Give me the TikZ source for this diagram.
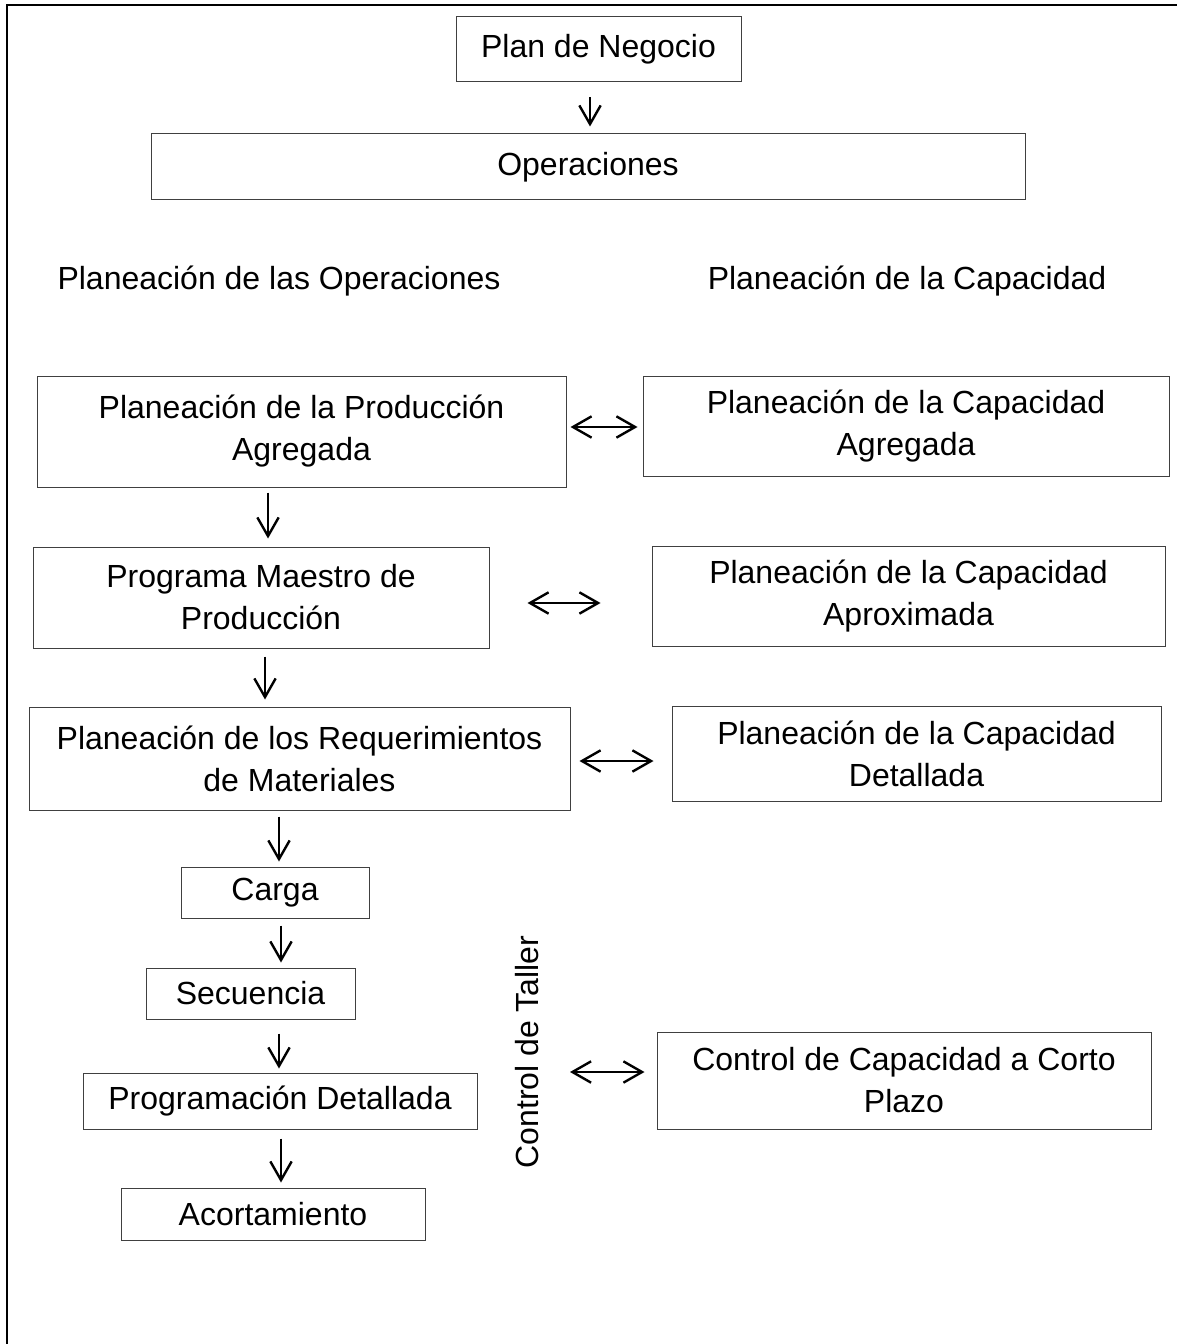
\documentclass[tikz,border=0pt]{standalone}
\usepackage{fontspec}
\setmainfont{Liberation Sans}
\usetikzlibrary{arrows.meta}
% box given by its corners in pixel units: name, x1, y1, x2, y2, text
\newcommand\pxbox[6]{%
  \node[box, minimum width={(#4-#2)*0.75pt}, minimum height={(#5-#3)*0.75pt}]
    (#1) at ({(#2+#4)/2},{(#3+#5)/2}) {#6};}
\begin{document}
\begin{tikzpicture}[x=0.75pt,y=-0.75pt,
  txt/.style={font=\fontsize{24}{31.5}\selectfont},
  box/.style={txt, draw=black!75, line width=0.75pt, inner sep=0pt, align=center},
  lbl/.style={txt, inner sep=0pt},
  tip/.tip={Straight Barb[length=14pt,width=16pt]},
  arr/.style={line width=1.8pt, -tip},
  darr/.style={line width=1.8pt, tip-tip}]

\useasboundingbox (0,0) rectangle (1177,1344);

% outer frame (top and left sides)
\draw[line width=1.5pt] (7,1344) -- (7,5) -- (1177,5);

% top level
\pxbox{plan}{456}{17}{741}{82}{Plan de Negocio}
\pxbox{ops}{151}{134}{1025}{200}{Operaciones}

% column headings
\node[lbl] (tops) at (279,281) {Planeación de las Operaciones};
\node[lbl] (tcap) at (907,281) {Planeación de la Capacidad};

% planning levels
\pxbox{ppa}{37}{376}{566}{487}{Planeación de la Producción\\Agregada}
\pxbox{pca}{643}{376}{1169}{476}{Planeación de la Capacidad\\Agregada}
\pxbox{pmp}{33}{547}{489}{648}{Programa Maestro de\\Producción}
\pxbox{pcx}{652}{546}{1165}{646}{Planeación de la Capacidad\\Aproximada}
\pxbox{prm}{29}{707}{570}{810}{Planeación de los Requerimientos\\de Materiales}
\pxbox{pcd}{672}{706}{1161}{801}{Planeación de la Capacidad\\Detallada}

% shop floor control
\pxbox{carga}{181}{867}{369}{918}{Carga}
\pxbox{sec}{146}{968}{355}{1019}{Secuencia}
\pxbox{prog}{83}{1073}{477}{1129}{Programación Detallada}
\pxbox{acor}{121}{1188}{425}{1240}{Acortamiento}
\node[lbl, rotate=90] (ctl) at (527,1052) {Control de Taller};
\pxbox{ccp}{657}{1032}{1151}{1129}{Control de Capacidad a Corto\\Plazo}

% downward flow
\draw[arr, shorten <=11.25pt, shorten >=5.25pt] (plan.south -| 590,0) -- (ops.north -| 590,0);
\draw[arr, shorten <=3.75pt, shorten >=6pt] (ppa.south -| 268,0) -- (pmp.north -| 268,0);
\draw[arr, shorten <=6pt, shorten >=5.25pt] (pmp.south -| 265,0) -- (prm.north -| 265,0);
\draw[arr, shorten <=4.5pt, shorten >=3.75pt] (prm.south -| 279,0) -- (carga.north -| 279,0);
\draw[arr, shorten <=5.25pt, shorten >=3.75pt] (carga.south -| 281,0) -- (sec.north -| 281,0);
\draw[arr, shorten <=10.5pt, shorten >=3pt] (sec.south -| 279,0) -- (prog.north -| 279,0);
\draw[arr, shorten <=6.75pt, shorten >=3.75pt] (prog.south -| 281,0) -- (acor.north -| 281,0);

% links to capacity planning
\draw[darr, shorten <=3pt, shorten >=3.75pt] (ppa.east |- 0,427) -- (pca.west |- 0,427);
\draw[darr, shorten <=28.5pt, shorten >=38.25pt] (pmp.east |- 0,603) -- (pcx.west |- 0,603);
\draw[darr, shorten <=6.75pt, shorten >=13.5pt] (prm.east |- 0,761) -- (pcd.west |- 0,761);
\draw[darr, shorten <=32.25pt, shorten >=9pt] (ctl.center |- 0,1072) -- (ccp.west |- 0,1072);
\end{tikzpicture}
\end{document}
